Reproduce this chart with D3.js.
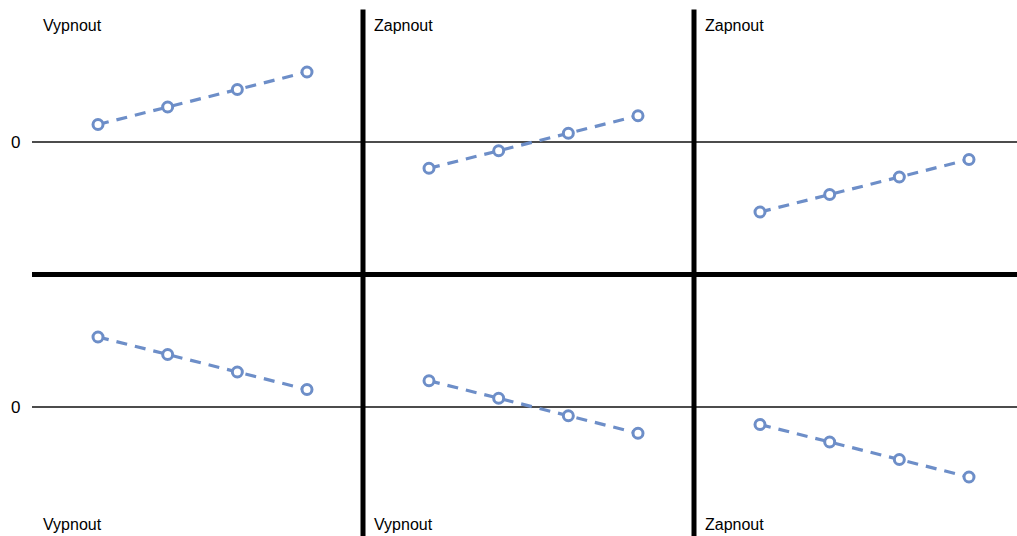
<!DOCTYPE html>
<html>
<head>
<meta charset="utf-8">
<script src="https://cdn.jsdelivr.net/npm/d3@7"></script>
<style>
  body { margin: 0; background: #fff; }
  svg { display: block; font-family: "Liberation Sans", Arial, sans-serif; }
</style>
</head>
<body>
<div id="chart"></div>
<script>
'use strict';

// data
const categories = [1, 2, 3, 4];
const topLabels = ["Vypnout", "Zapnout", "Zapnout"];
const bottomLabels = ["Vypnout", "Vypnout", "Zapnout"];
const topSeries = [
  [1, 2, 3, 4],
  [-1.5, -0.5, 0.5, 1.5],
  [-4, -3, -2, -1]
];
const bottomSeries = [
  [4, 3, 2, 1],
  [1.5, 0.5, -0.5, -1.5],
  [-1, -2, -3, -4]
];
const yTicks = [0];

(function() {
let width = 1017;
let height = 536;
let marginLeft = 32, marginTop = 9.5;
let panelW = 331, panelH = 265;
let color = "#6d8ec8";

let svg = d3.select("#chart").append("svg")
  .attr("width", width)
  .attr("height", height);

let x = d3.scaleLinear().domain([1, 4]).range([66, 275]);
let y = d3.scaleLinear().domain([-7.57, 7.57]).range([panelH, 0]);

let rows = [
  { labels: topLabels, series: topSeries, labelY: 16 },
  { labels: bottomLabels, series: bottomSeries, labelY: panelH - 15.5 }
];

// zero lines and the "0" tick per row
rows.forEach(function(r, ri) {
  let g = svg.append("g").attr("transform", "translate(0," + (marginTop + ri * panelH) + ")");
  yTicks.forEach(function(t) {
    g.append("line")
      .attr("x1", marginLeft).attr("x2", width + 10)
      .attr("y1", y(t)).attr("y2", y(t))
      .attr("stroke", "#111").attr("stroke-width", 1.3);
    g.append("text")
      .attr("x", 20.5).attr("y", y(t))
      .attr("dy", "0.35em")
      .attr("text-anchor", "end")
      .style("font-size", "17px")
      .text(t);
  });
});

// thick separators
[1, 2].forEach(function(c) {
  svg.append("line")
    .attr("x1", marginLeft + c * panelW).attr("x2", marginLeft + c * panelW)
    .attr("y1", marginTop).attr("y2", height + 5)
    .attr("stroke", "#000").attr("stroke-width", 5);
});
svg.append("line")
  .attr("x1", marginLeft).attr("x2", width + 10)
  .attr("y1", marginTop + panelH).attr("y2", marginTop + panelH)
  .attr("stroke", "#000").attr("stroke-width", 5);

let line = d3.line()
  .x(function(d, i) { return x(categories[i]); })
  .y(function(d) { return y(d); });

rows.forEach(function(r, ri) {
  r.series.forEach(function(vals, ci) {
    let g = svg.append("g")
      .attr("transform", "translate(" + (marginLeft + ci * panelW) + "," + (marginTop + ri * panelH) + ")");

    g.append("text")
      .attr("x", 11).attr("y", r.labelY)
      .attr("dy", "0.35em")
      .style("font-size", "16px")
      .text(r.labels[ci]);

    g.append("path")
      .datum(vals)
      .attr("d", line)
      .attr("fill", "none")
      .attr("stroke", color)
      .attr("stroke-width", 3.2)
      .attr("stroke-dasharray", "11,8");

    g.selectAll("circle")
      .data(vals)
      .enter().append("circle")
        .attr("cx", function(d, i) { return x(categories[i]); })
        .attr("cy", function(d) { return y(d); })
        .attr("r", 5)
        .attr("fill", "#fff")
        .attr("stroke", color)
        .attr("stroke-width", 3);
  });
});
})();
</script>
</body>
</html>
